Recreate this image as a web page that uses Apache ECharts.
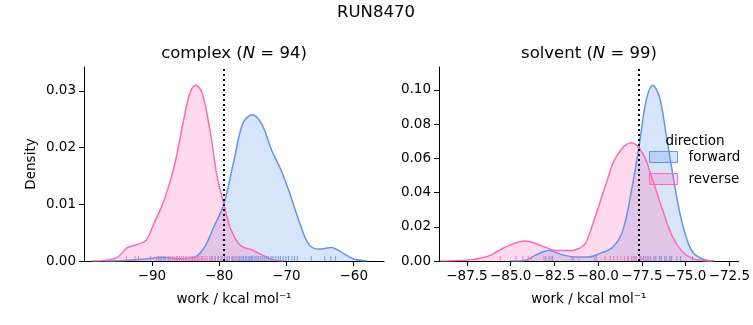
<!DOCTYPE html>
<html>
<head>
<meta charset="utf-8">
<script src="https://cdn.jsdelivr.net/npm/echarts@6/dist/echarts.min.js"></script>
<style>html,body{margin:0;padding:0;background:#fff}#c{width:753px;height:325px}</style>
</head>
<body>
<div id="c"></div>
<script>
// ---- data ----
const complexFwdX = [-97, -94, -91.5, -88.2, -85.7, -83.8, -82.3, -80.8, -79.3, -77.9, -76.5, -75.1, -73.7, -72.2, -70.8, -69.5, -68.0, -66.6, -65.1, -63.3, -61.9, -60.1, -58];
const complexFwdY = [0, 0.0001, 0.0003, 0.0006, 0.0004, 0.0006, 0.0022, 0.0060, 0.0101, 0.0172, 0.0242, 0.0258, 0.0242, 0.0195, 0.0160, 0.0119, 0.0066, 0.0028, 0.0021, 0.0024, 0.0016, 0.0004, 0];
const complexRevX = [-99, -97, -95.1, -93.7, -92.2, -90.9, -89.7, -88.2, -86.7, -85.3, -84.3, -83.5, -82.5, -81.3, -80.3, -79.4, -78.4, -76.9, -75.0, -73.5, -72.0, -70.5];
const complexRevY = [0, 0.0001, 0.0007, 0.0023, 0.0029, 0.0036, 0.0066, 0.0107, 0.0166, 0.0248, 0.0298, 0.0310, 0.0295, 0.0225, 0.0148, 0.0105, 0.0060, 0.0028, 0.0019, 0.0010, 0.0002, 0];
const solventFwdX = [-85, -84.2, -83.6, -82.83, -82.07, -81.3, -80.55, -79.92, -79.16, -78.59, -78.02, -77.64, -77.25, -76.88, -76.5, -76.12, -75.74, -75.36, -74.97, -74.6, -74.0, -73.4];
const solventFwdY = [0, 0.0003, 0.0033, 0.0062, 0.0037, 0.0023, 0.0023, 0.0043, 0.0082, 0.0179, 0.0452, 0.0686, 0.0940, 0.1027, 0.0959, 0.0744, 0.0511, 0.0296, 0.0140, 0.0053, 0.0010, 0];
const solventRevX = [-89, -88.4, -87.2, -86.26, -85.3, -84.17, -83.2, -82.45, -81.5, -81.06, -80.74, -80.3, -79.54, -78.97, -78.11, -77.45, -76.88, -76.31, -75.74, -75.17, -74.6, -74.0, -73.5];
const solventRevY = [0, 0.0002, 0.0008, 0.0029, 0.0082, 0.0117, 0.0088, 0.0062, 0.0062, 0.0075, 0.0101, 0.0218, 0.0452, 0.0608, 0.0690, 0.0628, 0.0472, 0.0296, 0.0140, 0.0053, 0.0014, 0.0002, 0];

const complexFwdRug = [-89.0, -88.6, -88.2, -87.5, -86.3, -84.0, -82.6, -81.2, -80.6, -80.1, -79.7, -79.2, -78.8, -78.5, -78.1, -77.8, -77.5, -77.2, -76.9, -76.6, -76.4, -76.1, -75.9, -75.6, -75.4, -75.2, -75.0, -74.7, -74.5, -74.2, -73.9, -73.6, -73.3, -73.0, -72.7, -72.3, -72.0, -71.6, -71.2, -70.9, -70.5, -70.1, -69.7, -69.2, -68.8, -68.4, -66.3, -64.3, -63.4, -62.7];
const complexRevRug = [-93.8, -92.5, -92.0, -90.2, -89.3, -88.8, -88.0, -87.6, -87.2, -86.9, -86.6, -86.2, -85.9, -85.6, -85.3, -85.0, -84.8, -84.5, -84.2, -84.0, -83.7, -83.5, -83.2, -83.0, -82.7, -82.4, -82.1, -81.8, -81.4, -81.0, -80.6, -80.2, -79.6, -78.8, -78.0, -77.0, -75.5, -74.2];
const solventFwdRug = [-83.0, -82.8, -82.6, -81.5, -80.2, -78.3, -77.9, -77.6, -77.4, -77.2, -77.0, -76.8, -76.7, -76.5, -76.4, -76.2, -76.1, -75.9, -75.8, -75.5, -75.3, -74.6];
const solventRevRug = [-85.6, -84.7, -84.3, -84.0, -83.8, -83.1, -82.7, -81.4, -81.1, -80.1, -79.6, -79.3, -79.1, -78.9, -78.7, -78.5, -78.3, -78.1, -78.0, -77.8, -77.6, -77.5, -77.3, -77.1, -76.8, -76.4, -75.9];

const complexMarker = -79.36;
const solventMarker = -77.69;

const complexXTicks = [-90, -80, -70, -60];
const solventXTicks = [-87.5, -85, -82.5, -80, -77.5, -75, -72.5];

const suptitle = 'RUN8470';
const complexN = 94;
const solventN = 99;
// ---------------------------------------

const FONT = 'DejaVu Sans';
const BLUE = '#6495ED', PINK = '#FF69B4';
const BLUE_FILL = 'rgba(100,149,237,0.25)', PINK_FILL = 'rgba(255,105,180,0.25)';
const zip = (xs, ys) => xs.map((x, i) => [x, ys[i]]);
const minus = s => String(s).replace('-', '\u2212');

function kde(name, xs, ys, idx, color, fill, marker) {
  const s = {
    name, type: 'line', xAxisIndex: idx, yAxisIndex: idx,
    data: zip(xs, ys), smooth: 0.35, symbol: 'none',
    lineStyle: { color, width: 1.5 }, itemStyle: { color },
    areaStyle: { color: fill, opacity: 1, origin: 'start' }, z: 2
  };
  if (marker !== undefined) {
    s.markLine = {
      silent: true, symbol: 'none', label: { show: false },
      lineStyle: { color: '#000', type: [2, 3], width: 2 },
      data: [{ xAxis: marker }], animation: false
    };
  }
  return s;
}
function rug(name, vals, idx, color) {
  return {
    name, type: 'scatter', xAxisIndex: idx, yAxisIndex: idx,
    data: vals.map(v => [v, 0]), symbol: 'rect', symbolSize: [1, 5], symbolOffset: [0, -2.5],
    itemStyle: { color, opacity: 0.9 }, z: 3, silent: true
  };
}
function xAxis(idx, min, max, ticks, fmt) {
  return {
    type: 'value', gridIndex: idx, min, max,
    axisLine: { show: true, onZero: false, lineStyle: { color: '#000', width: 1 } },
    axisTick: { show: true, length: 5, lineStyle: { color: '#000' }, customValues: ticks },
    axisLabel: { color: '#000', fontFamily: FONT, fontSize: 13.5, margin: 8, customValues: ticks, formatter: v => minus(fmt(v)) },
    splitLine: { show: false },
    name: 'work / kcal mol\u207B\u00B9', nameLocation: 'middle', nameGap: 31,
    nameTextStyle: { color: '#000', fontFamily: FONT, fontSize: 13.5 }
  };
}
function yAxis(idx, max, interval, name) {
  return {
    type: 'value', gridIndex: idx, min: 0, max, interval,
    axisLine: { show: true, lineStyle: { color: '#000', width: 1 } },
    axisTick: { show: true, length: 5, lineStyle: { color: '#000' } },
    axisLabel: { color: '#000', fontFamily: FONT, fontSize: 13.5, margin: 8, showMaxLabel: false, formatter: v => v.toFixed(2) },
    splitLine: { show: false },
    name, nameLocation: 'middle', nameGap: 46,
    nameTextStyle: { color: '#000', fontFamily: FONT, fontSize: 13.5 }
  };
}

const chart = echarts.init(document.getElementById('c'), null, { renderer: 'canvas' });
const titleRich = { i: { fontStyle: 'italic', fontFamily: FONT, fontSize: 16.5, color: '#000' } };
chart.setOption({
  animation: false,
  backgroundColor: '#fff',
  title: [
    { text: suptitle, left: 376, top: 4, textAlign: 'center', padding: 0, textStyle: { fontFamily: FONT, fontSize: 16.5, fontWeight: 'normal', color: '#000' } },
    { text: 'complex ({i|N} = ' + complexN + ')', left: 234, top: 45, textAlign: 'center', padding: 0, textStyle: { fontFamily: FONT, fontSize: 16.5, fontWeight: 'normal', color: '#000', rich: titleRich } },
    { text: 'solvent ({i|N} = ' + solventN + ')', left: 589, top: 45, textAlign: 'center', padding: 0, textStyle: { fontFamily: FONT, fontSize: 16.5, fontWeight: 'normal', color: '#000', rich: titleRich } },
    { text: 'direction', left: 695, top: 134, textAlign: 'center', padding: 0, textStyle: { fontFamily: FONT, fontSize: 13.5, fontWeight: 'normal', color: '#000' } }
  ],
  legend: {
    left: 649, top: 150, orient: 'vertical', padding: 0, itemGap: 8,
    itemWidth: 28, itemHeight: 11, selectedMode: false,
    textStyle: { fontFamily: FONT, fontSize: 13.5, color: '#000', padding: [0, 0, 0, 6] },
    data: [
      { name: 'forward', icon: 'rect', itemStyle: { color: BLUE_FILL, borderColor: BLUE, borderWidth: 1 } },
      { name: 'reverse', icon: 'rect', itemStyle: { color: PINK_FILL, borderColor: PINK, borderWidth: 1 } }
    ]
  },
  grid: [
    { left: 84, top: 67, width: 300, height: 194 },
    { left: 439, top: 67, width: 300, height: 194 }
  ],
  xAxis: [
    xAxis(0, -100.1, -55.5, complexXTicks, v => String(Math.round(v))),
    xAxis(1, -89.1, -71.97, solventXTicks, v => v.toFixed(1))
  ],
  yAxis: [
    yAxis(0, 0.0342, 0.01, 'Density'),
    yAxis(1, 0.1133, 0.02, '')
  ],
  series: [
    kde('forward', complexFwdX, complexFwdY, 0, BLUE, BLUE_FILL),
    kde('reverse', complexRevX, complexRevY, 0, PINK, PINK_FILL, complexMarker),
    rug('forward rug', complexFwdRug, 0, BLUE),
    rug('reverse rug', complexRevRug, 0, PINK),
    kde('forward', solventFwdX, solventFwdY, 1, BLUE, BLUE_FILL),
    kde('reverse', solventRevX, solventRevY, 1, PINK, PINK_FILL, solventMarker),
    rug('forward rug', solventFwdRug, 1, BLUE),
    rug('reverse rug', solventRevRug, 1, PINK)
  ]
});
</script>
</body>
</html>
